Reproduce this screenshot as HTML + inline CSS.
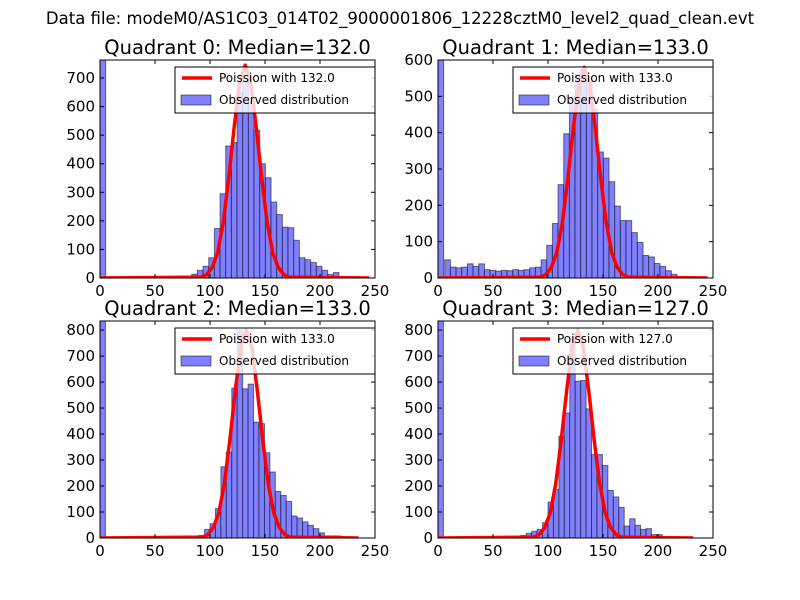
<!DOCTYPE html>
<html><head><meta charset="utf-8"><style>
html,body{margin:0;padding:0;background:#fff;}
svg{display:block;font-family:"DejaVu Sans","Liberation Sans",sans-serif;}
</style></head><body>
<svg id="chart" width="800" height="600" viewBox="0 0 800 600" xmlns="http://www.w3.org/2000/svg">
<rect width="800" height="600" fill="#fff"/>
<text x="400" y="24" font-size="16.5" text-anchor="middle">Data file: modeM0/AS1C03_014T02_9000001806_12228cztM0_level2_quad_clean.evt</text>
</svg>
<script>
// ---- data ----
const titles = ["Quadrant 0: Median=132.0","Quadrant 1: Median=133.0","Quadrant 2: Median=133.0","Quadrant 3: Median=127.0"];
const medians = [132, 133, 133, 127];
const poissonLabels = ["Poission with 132.0","Poission with 133.0","Poission with 133.0","Poission with 127.0"];
const binStart = [1, 1, 1, 1];
const binWidth = [5.15, 5.15, 4.95, 4.95];
const counts0 = [900,0,0,0,0,0,0,0,0,0,0,0,0,0,0,0,13,27,41,71,173,295,462,474,650,700,620,517,400,351,266,222,178,176,132,71,64,54,41,27,12,19,0,0,0,0,0,0];
const counts1 = [900,50,30,28,30,39,32,39,23,21,19,21,20,23,21,23,28,30,50,90,150,257,397,498,560,575,540,465,347,330,265,198,158,158,125,98,62,58,40,32,20,10,0,0,0,0,0,0];
const counts2 = [900,0,0,0,0,0,0,0,0,0,0,0,0,0,0,0,0,5,10,33,55,113,274,331,577,800,574,592,446,440,328,254,179,164,141,85,77,62,49,36,20,8,8,8,3,0,0,0];
const counts3 = [900,0,0,0,0,0,0,0,0,0,0,0,0,0,6,10,18,26,33,59,138,187,392,481,764,603,606,497,321,321,279,183,158,118,46,74,49,33,36,13,13,5,0,0,0,0,0,0];
const curvePeaks = [745, 580, 800, 800];
const curveDx = [-40,-35,-30,-25,-20,-15,-10,-5,0,5,10,15,20,25,30,35,40];
const curveRel = [0.004,0.016,0.05,0.12,0.26,0.47,0.71,0.92,1,0.92,0.71,0.47,0.26,0.12,0.05,0.016,0.004];
const curveEnd = [245, 245, 235, 232];
const xTicks = [0,50,100,150,200,250];
const yTicks0 = [0,100,200,300,400,500,600,700];
const yTicks1 = [0,100,200,300,400,500,600];
const yTicks2 = [0,100,200,300,400,500,600,700,800];
const yTicks3 = [0,100,200,300,400,500,600,700,800];
const yMax = [763, 600, 835, 835];

const allCounts=[counts0,counts1,counts2,counts3];
const allYTicks=[yTicks0,yTicks1,yTicks2,yTicks3];
const boxes=[{l:100,r:375,t:60,b:278},{l:438,r:713,t:60,b:278},{l:100,r:375,t:321,b:538},{l:438,r:713,t:321,b:538}];
const NS="http://www.w3.org/2000/svg";
const svg=document.getElementById('chart');
function mk(tag,attrs,parent){const e=document.createElementNS(NS,tag);for(const k in attrs)e.setAttribute(k,attrs[k]);(parent||svg).appendChild(e);return e;}

for(let p=0;p<4;p++){
  const B=boxes[p];
  const xs=v=>B.l+(v/250)*(B.r-B.l);
  const ys=v=>B.b-(v/yMax[p])*(B.b-B.t);
  const g=mk('g',{});
  
  
  const cid='clip'+p;
  const cp=mk('clipPath',{id:cid},g);mk('rect',{x:B.l,y:B.t,width:B.r-B.l,height:B.b-B.t},cp);
  const plot=mk('g',{'clip-path':'url(#'+cid+')'},g);
  const c=allCounts[p];
  for(let i=0;i<c.length;i++){
    if(c[i]<=0)continue;
    const x0=xs(binStart[p]+i*binWidth[p]-(i===0?1:0)),x1=xs(binStart[p]+(i+1)*binWidth[p]-(i===0?1:0));
    const r=mk('rect',{x:x0,y:ys(c[i]),width:x1-x0,height:ys(0)-ys(c[i]),fill:'#7f7fff',stroke:'rgba(0,0,0,0.5)','stroke-width':1},plot);
    
    
  }
  let pts=[[0,0]];
  for(let k=0;k<curveDx.length;k++)pts.push([medians[p]+curveDx[k],curvePeaks[p]*curveRel[k]]);
  pts.push([curveEnd[p],0]);
  const pl=mk('polyline',{points:pts.map(q=>xs(q[0])+','+ys(q[1])).join(' '),fill:'none',stroke:'#ff0000','stroke-width':3.5,'stroke-linejoin':'round'},plot);
  
  
  xTicks.forEach(t=>{const x=xs(t);
    mk('line',{x1:x,x2:x,y1:B.b,y2:B.b-4,stroke:'#000'},g);mk('line',{x1:x,x2:x,y1:B.t,y2:B.t+4,stroke:'#000'},g);
    const tx=mk('text',{x:x,y:B.b+18,'font-size':15,'text-anchor':'middle'},g);tx.textContent=t;
    
    
  });
  allYTicks[p].forEach(t=>{const y=ys(t);
    mk('line',{x1:B.l,x2:B.l+4,y1:y,y2:y,stroke:'#000'},g);mk('line',{x1:B.r,x2:B.r-4,y1:y,y2:y,stroke:'#000'},g);
    const tx=mk('text',{x:B.l-5,y:y+5,'font-size':15,'text-anchor':'end'},g);tx.textContent=t;
    
    
  });
  mk('rect',{x:B.l,y:B.t,width:B.r-B.l,height:B.b-B.t,fill:'none',stroke:'#000','stroke-width':1},g);
  const ti=mk('text',{x:(B.l+B.r)/2,y:B.t-6,'font-size':19.5,'text-anchor':'middle'},g);ti.textContent=titles[p];
  
  
  const lg=mk('g',{},g);
  
  
  const lx=B.r-200,ly=B.t+7;
  mk('rect',{x:lx,y:ly,width:200,height:46,fill:'rgba(255,255,255,0.8)',stroke:'#000','stroke-width':1},lg);
  mk('line',{x1:lx+7,x2:lx+37,y1:ly+11,y2:ly+11,stroke:'#ff0000','stroke-width':3.5},lg);
  const t1=mk('text',{x:lx+44,y:ly+15,'font-size':12},lg);t1.textContent=poissonLabels[p];
  
  
  mk('rect',{x:lx+6,y:ly+28,width:30,height:10,fill:'#7f7fff',stroke:'rgba(0,0,0,0.5)'},lg);
  const t2=mk('text',{x:lx+44,y:ly+37,'font-size':12},lg);t2.textContent='Observed distribution';
  
  
}
</script>
</body></html>
